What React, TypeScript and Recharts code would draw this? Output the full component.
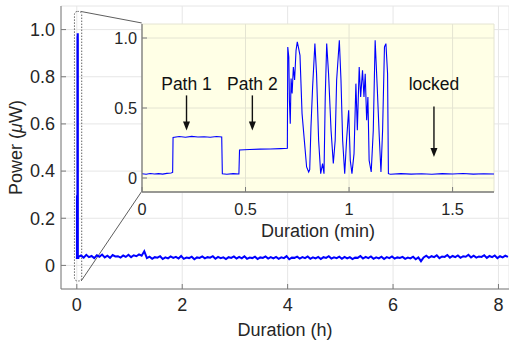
import React from 'react';
import {
  ComposedChart,
  Line,
  XAxis,
  YAxis,
  CartesianGrid,
  ReferenceArea,
  ReferenceLine,
  ReferenceDot,
} from 'recharts';

const FONT = "'Liberation Sans', Arial, Helvetica, sans-serif";
const TEXT = '#262626';
const FRAME = '#7a7a7a';
const GRID = '#e6e6e6';
const BLUE = '#0000ff';
const TICK_LEN = 5;

// ---------- inset data (minutes) ----------
const insetMinutes = [
  0.0, 0.02, 0.04, 0.06, 0.08, 0.1, 0.12, 0.14, 0.148, 0.15, 0.18, 0.21, 0.24, 0.27, 0.3, 0.33, 0.36, 0.385,
  0.388, 0.41, 0.44, 0.468, 0.471, 0.52, 0.57, 0.62, 0.67, 0.702, 0.704, 0.709, 0.712, 0.716, 0.72, 0.725,
  0.731, 0.737, 0.744, 0.75, 0.756, 0.763, 0.773, 0.784, 0.795, 0.805, 0.81, 0.816, 0.824, 0.835, 0.843,
  0.853, 0.863, 0.872, 0.879, 0.885, 0.892, 0.901, 0.913, 0.924, 0.933, 0.94, 0.953, 0.961, 0.969, 0.979,
  0.988, 0.998, 1.006, 1.014, 1.024, 1.033, 1.04, 1.049, 1.056, 1.065, 1.072, 1.078, 1.085, 1.091, 1.097,
  1.107, 1.117, 1.126, 1.136, 1.146, 1.154, 1.162, 1.171, 1.178, 1.186, 1.19, 1.2, 1.25, 1.3, 1.35, 1.4,
  1.45, 1.5, 1.55, 1.6, 1.65, 1.7,
];
const insetPower = [
  0.03, 0.027, 0.032, 0.029, 0.031, 0.028, 0.033, 0.036, 0.04, 0.29, 0.296, 0.291, 0.297, 0.293, 0.295, 0.291,
  0.296, 0.293, 0.03, 0.027, 0.031, 0.029, 0.2, 0.204, 0.206, 0.207, 0.21, 0.212, 0.936, 0.864, 0.55, 0.388,
  0.71, 0.603, 0.793, 0.7, 0.912, 0.972, 0.93, 0.876, 0.46, 0.269, 0.079, 0.043, 0.06, 0.364, 0.65, 0.96,
  0.745, 0.269, 0.031, 0.103, 0.031, 0.579, 0.96, 0.745, 0.341, 0.103, 0.269, 0.698, 0.984, 0.698, 0.269,
  0.031, 0.269, 0.484, 0.126, 0.031, 0.174, 0.674, 0.341, 0.793, 0.579, 0.769, 0.579, 0.745, 0.412, 0.579,
  0.126, 0.043, 0.341, 0.984, 0.65, 0.293, 0.043, 0.341, 0.936, 0.96, 0.745, 0.031, 0.027, 0.031, 0.028,
  0.03, 0.027, 0.031, 0.029, 0.032, 0.028, 0.03, 0.029,
];

// ---------- main data (hours) ----------
const mainStartH = 0.03;
const mainStepH = 0.05;
const mainPower = [
  // 0.03 h .. 1.23 h
  0.036, 0.042, 0.033, 0.045, 0.035, 0.04, 0.031, 0.043, 0.037, 0.046, 0.034, 0.041, 0.032, 0.044, 0.038,
  0.039, 0.033, 0.042, 0.036, 0.045, 0.035, 0.043, 0.039, 0.047, 0.041,
  // bump
  0.06,
  // 1.33 h .. 6.48 h
  0.031, 0.037, 0.028, 0.035, 0.033, 0.039, 0.027, 0.034, 0.03, 0.038,
  0.032, 0.036, 0.029, 0.04, 0.028, 0.033, 0.031, 0.037, 0.026, 0.034,
  0.032, 0.038, 0.03, 0.035, 0.033, 0.039, 0.028, 0.036, 0.031, 0.034,
  0.027, 0.035, 0.032, 0.038, 0.029, 0.036, 0.03, 0.039, 0.028, 0.033,
  0.031, 0.037, 0.027, 0.034, 0.032, 0.038, 0.029, 0.035, 0.03, 0.036,
  0.028, 0.034, 0.031, 0.039, 0.026, 0.033, 0.032, 0.037, 0.029, 0.035,
  0.031, 0.038, 0.028, 0.034, 0.03, 0.036, 0.027, 0.035, 0.032, 0.039,
  0.029, 0.034, 0.031, 0.037, 0.028, 0.036, 0.03, 0.035, 0.027, 0.033,
  0.032, 0.04, 0.029, 0.036, 0.031, 0.038, 0.028, 0.034, 0.03, 0.037,
  0.027, 0.035, 0.031, 0.038, 0.029, 0.034, 0.032, 0.036, 0.028, 0.033,
  0.03, 0.037, 0.026, 0.034,
  // dip
  0.018,
  // 6.58 h .. 8.18 h
  0.034, 0.041, 0.032, 0.039, 0.035, 0.043, 0.031, 0.038, 0.036, 0.044,
  0.033, 0.04, 0.035, 0.042, 0.032, 0.039, 0.037, 0.045, 0.034, 0.041,
  0.033, 0.038, 0.036, 0.043, 0.032, 0.04, 0.035, 0.042, 0.031, 0.039,
  0.034, 0.041, 0.036,
];

// ---------- axes ----------
const mainXDomain = [-0.3, 8.2];
const mainYDomain = [-0.1, 1.1];
const mainXTicks = [0, 2, 4, 6, 8];
const mainYTicks = [0, 0.2, 0.4, 0.6, 0.8, 1];
const insetXDomain = [0, 1.7];
const insetYDomain = [-0.1, 1.1];
const insetXTicks = [0, 0.5, 1, 1.5];
const insetYTicks = [0, 0.5, 1];

// zoom box (main coords, hours / µW) and the inset corners it connects to
const zoomBoxX = [-0.045, 0.093];
const zoomBoxY = [-0.066, 1.077];
const insetCornerX = 1.232;
const insetCornerY = [0.314, 1.028];

// annotations (inset coords)
const annLabels = ['Path 1', 'Path 2', 'locked'];
const annX = [0.215, 0.533, 1.41];
const annTextY = [0.674, 0.674, 0.674];
const annFromY = [0.59, 0.59, 0.51];
const annToY = [0.34, 0.34, 0.15];

const insetRows = insetMinutes.map((m, i) => ({ t: m, p: insetPower[i] }));
const mainRows = [
  ...insetMinutes.map((m, i) => ({ t: m / 60, p: insetPower[i] })),
  ...mainPower.map((p, i) => ({ t: mainStartH + i * mainStepH, p })),
];

// ---------- tick renderers ----------
const BottomTick = (props: any) => {
  const { x, y, payload, margin, fontSize, fmt } = props;
  const axisY = y - margin;
  return (
    <g>
      <line x1={x} x2={x} y1={axisY} y2={axisY - TICK_LEN} stroke={FRAME} strokeWidth={1} />
      <text x={x} y={y} dy="0.71em" textAnchor="middle" fontSize={fontSize} fill={TEXT} fontFamily={FONT}>
        {fmt(payload.value)}
      </text>
    </g>
  );
};

const LeftTick = (props: any) => {
  const { x, y, payload, margin, fontSize, fmt } = props;
  const axisX = x + margin;
  return (
    <g>
      <line x1={axisX} x2={axisX + TICK_LEN} y1={y} y2={y} stroke={FRAME} strokeWidth={1} />
      <text x={x} y={y} dy="0.355em" textAnchor="end" fontSize={fontSize} fill={TEXT} fontFamily={FONT}>
        {fmt(payload.value)}
      </text>
    </g>
  );
};

const TopTick = (props: any) => {
  const { x, y } = props;
  return <line x1={x} x2={x} y1={y} y2={y + TICK_LEN} stroke={FRAME} strokeWidth={1} />;
};

const RightTick = (props: any) => {
  const { x, y } = props;
  return <line x1={x} x2={x - TICK_LEN} y1={y} y2={y} stroke={FRAME} strokeWidth={1} />;
};

const fmtInt = (v: number) => String(v);
const fmtOne = (v: number) => (v === 0 ? '0' : v.toFixed(1));
const fmtInsetY = (v: number) => (v === 0 ? '0' : v.toFixed(1));
const fmtInsetX = (v: number) => String(v);

const PowerLabel = () => (
  <text
    x={22}
    y={147.5}
    transform="rotate(-90, 22, 147.5)"
    textAnchor="middle"
    fontSize={18}
    fill={TEXT}
    fontFamily={FONT}
  >
    Power (<tspan fontStyle="italic">μ</tspan>W)
  </text>
);

const Arrow = (props: any) => {
  const { x1, y1, x2, y2 } = props;
  const head = 9;
  const half = 3.5;
  return (
    <g>
      <line x1={x1} y1={y1} x2={x2} y2={y2 - head + 1} stroke="#111" strokeWidth={1.4} />
      <polygon points={`${x2 - half},${y2 - head} ${x2 + half},${y2 - head} ${x2},${y2}`} fill="#111" />
    </g>
  );
};

const makeAnnText = (label: string) => (props: any) => (
  <text
    x={props.cx}
    y={props.cy}
    dy="0.355em"
    textAnchor="middle"
    fontSize={17.5}
    fill="#111"
    fontFamily={FONT}
  >
    {label}
  </text>
);

const ZoomBox = (props: any) => {
  const { x, y, width, height } = props;
  return (
    <rect
      x={x}
      y={y}
      width={width}
      height={height}
      rx={3}
      ry={3}
      fill="none"
      stroke="#555"
      strokeWidth={0.9}
      strokeDasharray="1.5 1.5"
    />
  );
};

export default function App() {
  return (
    <div
      style={{
        position: 'absolute',
        left: 0,
        top: 0,
        width: 509,
        height: 343,
        background: '#ffffff',
        overflow: 'hidden',
        fontFamily: FONT,
      }}
    >
      <div style={{ position: 'absolute', left: 0, top: 0 }}>
        <ComposedChart width={509} height={343} data={mainRows} margin={{ top: 6, right: 0, bottom: 0, left: 21 }}>
          <CartesianGrid stroke={GRID} strokeWidth={1} />
          <XAxis
            dataKey="t"
            type="number"
            domain={mainXDomain}
            ticks={mainXTicks}
            interval={0}
            allowDataOverflow
            height={54}
            tickSize={0}
            tickMargin={9}
            axisLine={{ stroke: FRAME }}
            tickLine={false}
            tick={(p: any) => <BottomTick {...p} margin={9} fontSize={18} fmt={fmtInt} />}
            label={{ value: 'Duration (h)', position: 'insideBottom', offset: 7, fontSize: 18, fill: TEXT, fontFamily: FONT }}
          />
          <XAxis
            xAxisId="top"
            orientation="top"
            dataKey="t"
            type="number"
            domain={mainXDomain}
            ticks={mainXTicks}
            interval={0}
            allowDataOverflow
            height={0}
            tickSize={0}
            tickMargin={0}
            axisLine={{ stroke: FRAME }}
            tickLine={false}
            tick={(p: any) => <TopTick {...p} />}
          />
          <YAxis
            type="number"
            domain={mainYDomain}
            ticks={mainYTicks}
            interval={0}
            allowDataOverflow
            width={40}
            tickSize={0}
            tickMargin={6}
            axisLine={{ stroke: FRAME }}
            tickLine={false}
            tick={(p: any) => <LeftTick {...p} margin={6} fontSize={18} fmt={fmtOne} />}
            label={<PowerLabel />}
          />
          <ReferenceArea
            x1={zoomBoxX[0]}
            x2={zoomBoxX[1]}
            y1={zoomBoxY[0]}
            y2={zoomBoxY[1]}
            shape={(p: any) => <ZoomBox {...p} />}
          />
          <ReferenceLine
            segment={[
              { x: zoomBoxX[1] - 0.02, y: zoomBoxY[1] },
              { x: insetCornerX, y: insetCornerY[1] },
            ]}
            stroke="#333"
            strokeWidth={0.8}
          />
          <ReferenceLine
            segment={[
              { x: zoomBoxX[1] - 0.01, y: zoomBoxY[0] },
              { x: insetCornerX, y: insetCornerY[0] },
            ]}
            stroke="#333"
            strokeWidth={0.8}
          />
          <Line
            dataKey="p"
            type="linear"
            stroke={BLUE}
            strokeWidth={2}
            dot={false}
            activeDot={false}
            isAnimationActive={false}
          />
        </ComposedChart>
      </div>

      <div style={{ position: 'absolute', left: 90, top: 14 }}>
        <ComposedChart width={414} height={230} data={insetRows} margin={{ top: 10, right: 10, bottom: 0, left: 0 }}>
          <CartesianGrid stroke="#e4e4d2" strokeWidth={1} fill="#ffffe6" fillOpacity={1} />
          <XAxis
            dataKey="t"
            type="number"
            domain={insetXDomain}
            ticks={insetXTicks}
            interval={0}
            allowDataOverflow
            height={52}
            tickSize={0}
            tickMargin={11}
            axisLine={{ stroke: FRAME, strokeWidth: 1.3 }}
            tickLine={false}
            tick={(p: any) => <BottomTick {...p} margin={11} fontSize={16.3} fmt={fmtInsetX} />}
            label={{ value: 'Duration (min)', position: 'insideBottom', offset: 7, fontSize: 18, fill: TEXT, fontFamily: FONT }}
          />
          <XAxis
            xAxisId="top"
            orientation="top"
            dataKey="t"
            type="number"
            domain={insetXDomain}
            ticks={insetXTicks}
            interval={0}
            allowDataOverflow
            height={0}
            tickSize={0}
            tickMargin={0}
            axisLine={{ stroke: FRAME, strokeWidth: 1.3 }}
            tickLine={false}
            tick={(p: any) => <TopTick {...p} />}
          />
          <YAxis
            type="number"
            domain={insetYDomain}
            ticks={insetYTicks}
            interval={0}
            allowDataOverflow
            width={52}
            tickSize={0}
            tickMargin={5}
            axisLine={{ stroke: FRAME, strokeWidth: 1.3 }}
            tickLine={false}
            tick={(p: any) => <LeftTick {...p} margin={5} fontSize={16.3} fmt={fmtInsetY} />}
          />
          <YAxis
            yAxisId="right"
            orientation="right"
            type="number"
            domain={insetYDomain}
            ticks={insetYTicks}
            interval={0}
            allowDataOverflow
            width={0}
            tickSize={0}
            tickMargin={0}
            axisLine={{ stroke: FRAME, strokeWidth: 1.3 }}
            tickLine={false}
            tick={(p: any) => <RightTick {...p} />}
          />
          <Line
            dataKey="p"
            type="linear"
            stroke={BLUE}
            strokeWidth={1.1}
            dot={false}
            activeDot={false}
            isAnimationActive={false}
          />
          {annLabels.map((lab, i) => (
            <ReferenceLine
              key={`arr-${lab}`}
              segment={[
                { x: annX[i], y: annFromY[i] },
                { x: annX[i], y: annToY[i] },
              ]}
              shape={(p: any) => <Arrow {...p} />}
            />
          ))}
          {annLabels.map((lab, i) => (
            <ReferenceDot key={`lab-${lab}`} x={annX[i]} y={annTextY[i]} r={1} shape={makeAnnText(lab)} />
          ))}
        </ComposedChart>
      </div>
    </div>
  );
}
